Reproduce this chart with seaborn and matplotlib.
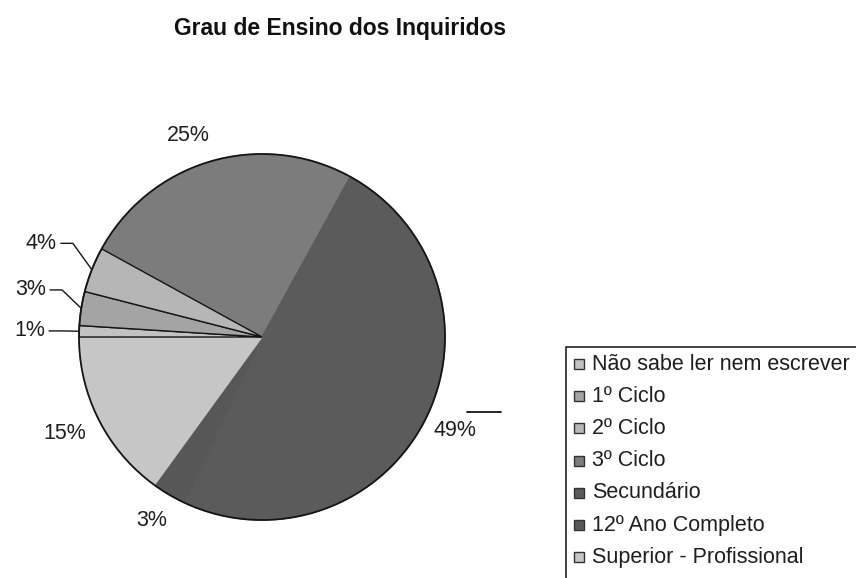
import numpy as np
import matplotlib
matplotlib.use("Agg")
import matplotlib.pyplot as plt
from matplotlib.patches import Circle, Rectangle
import seaborn as sns

# Education level of the respondents (percent)
categories = ["Não sabe ler nem escrever", "1º Ciclo", "2º Ciclo", "3º Ciclo",
              "Secundário", "12º Ano Completo", "Superior - Profissional"]
percentages = [1, 3, 4, 25, 49, 3, 15]
title = "Grau de Ensino dos Inquiridos"

# styling per slice
colors = ["#c2c2c2", "#a4a4a4", "#b6b6b6", "#7c7c7c", "#5b5b5b", "#575757", "#c6c6c6"]
edge_widths = [1.0, 1.0, 1.0, 0, 0, 0, 0]
label_dist = [1.27, 1.29, 1.31, 1.17, 1.17, 1.17, 1.20]
label_turn = [0.3, -2.5, -1.4, 3.8, 1.0, -0.4, -1.0]   # degrees
leader = [True, True, True, False, False, False, False]
stub = [False, False, False, False, True, False, False]

sns.set_theme(style="white")
plt.rcParams["font.family"] = ["Liberation Sans", "DejaVu Sans"]

W, H = 856, 578
fig = plt.figure(figsize=(W / 100, H / 100), dpi=100)
fig.patch.set_facecolor("white")
ax = fig.add_axes([0, 0, 1, 1])

cx, cy, R = 262, H - 337, 183
wedges, _ = ax.pie(percentages, colors=colors, startangle=180, counterclock=False,
                   center=(cx, cy), radius=R, frame=True,
                   wedgeprops=dict(linewidth=0))
ax.set_xlim(0, W)
ax.set_ylim(0, H)
ax.set_aspect("equal")
ax.axis("off")

# dark outlines on the thin slices, seamless joins between the large ones
for w, lw, c in zip(wedges, edge_widths, colors):
    if lw:
        w.set_edgecolor("#151515")
        w.set_linewidth(lw)
        w.set_zorder(2)
    else:
        w.set_edgecolor(c)
        w.set_linewidth(0.9)
        w.set_zorder(1)

ax.add_patch(Circle((cx, cy), R, fill=False, ec="#151515", lw=1.3, zorder=3))

txt_color = "#1e1e1e"
fs = 15.5
labels = []
for i, (w, p) in enumerate(zip(wedges, percentages)):
    mid = np.deg2rad((w.theta1 + w.theta2) / 2)
    ang = mid + np.deg2rad(label_turn[i])
    d = label_dist[i] * R
    lx, ly = cx + d * np.cos(ang), cy + d * np.sin(ang)
    t = ax.text(lx, ly, f"{p}%", ha="center", va="center", fontsize=fs, color=txt_color)
    labels.append((t, lx, ly, mid))

fig.canvas.draw()
renderer = fig.canvas.get_renderer()
for i, (t, lx, ly, mid) in enumerate(labels):
    if leader[i]:
        bb = t.get_window_extent(renderer)
        x0 = bb.x1 + 4
        x1 = x0 + 12
        ex, ey = cx + R * np.cos(mid), cy + R * np.sin(mid)
        ax.plot([x0, x1, ex], [ly, ly, ey], color="#151515", lw=1.0, zorder=4)
    if stub[i]:
        ax.plot([lx + 13, lx + 47], [ly + 19, ly + 19], color="#151515", lw=1.3)

ax.text(340, H - 29, title, ha="center", va="center", fontsize=16.5,
        fontweight="bold", color="#111111")

# legend box, running off the right and bottom edges
ax.add_patch(Rectangle((566, -20), 320, H - 347 + 20, fill=False,
                       ec="#222222", lw=1.2, clip_on=False))
for i, (name, c) in enumerate(zip(categories, colors)):
    y = H - (364 + 32.2 * i)
    ax.add_patch(Rectangle((574, y - 5), 10, 10, fc=c, ec="#333333", lw=1.0))
    ax.text(592, y, name, ha="left", va="center", fontsize=fs, color=txt_color)

fig.savefig("out.png", dpi=100, facecolor="white")
